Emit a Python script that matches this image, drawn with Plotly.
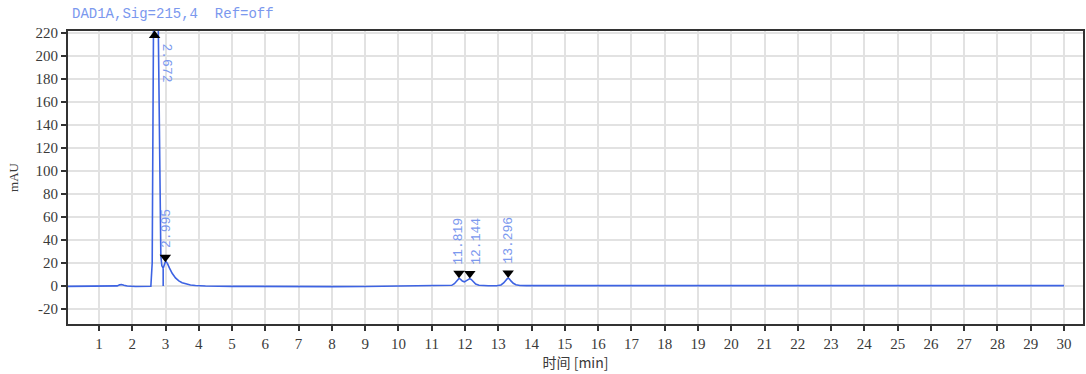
import numpy as np
import plotly.graph_objects as go

# Chromatogram: DAD1A, 215 nm
time_min = [
    0.07, 0.5, 1.0, 1.4, 1.55, 1.62, 1.68, 1.75, 1.85, 2.1, 2.4, 2.56,
    2.6, 2.62, 2.64, 2.672, 2.72, 2.78, 2.81, 2.83, 2.86, 2.89, 2.91, 2.93,
    2.96, 2.99, 3.02, 3.06, 3.12, 3.2, 3.3, 3.4, 3.5, 3.6, 3.75, 3.9, 4.2,
    5.0, 6.0, 7.0, 8.0, 9.0, 10.0, 11.0, 11.5,
    11.6, 11.68, 11.74, 11.79, 11.819, 11.86, 11.92, 11.98,
    12.04, 12.1, 12.144, 12.19, 12.25, 12.32, 12.42, 12.55, 12.7,
    12.95, 13.08, 13.16, 13.22, 13.27, 13.296, 13.33, 13.38, 13.45,
    13.53, 13.65, 13.85, 14.5, 15.0, 17.0, 20.0, 25.0, 29.5, 30.0,
]
signal_mau = [
    -0.3, -0.3, -0.2, -0.1, 0.1, 1.0, 1.3, 0.6, 0.0, -0.4, -0.3, -0.2,
    20.0, 120.0, 232.0, 242.0, 240.0, 232.0, 150.0, 60.0, 26.0, 17.5, 15.8, 15.5,
    18.0, 20.5, 21.0, 19.5, 15.5, 11.0, 7.0, 4.4, 2.8, 1.8, 0.9, 0.4, 0.0,
    -0.3, -0.5, -0.6, -0.5, -0.4, -0.2, 0.0, 0.1,
    0.6, 2.0, 4.0, 6.0, 6.6, 6.0, 4.3, 3.6,
    4.6, 6.0, 6.4, 5.6, 3.6, 1.8, 0.7, 0.3, 0.2,
    0.2, 0.9, 2.6, 5.0, 6.4, 6.8, 6.2, 4.4, 2.4,
    1.1, 0.5, 0.3, 0.2, 0.2, 0.3, 0.3, 0.3, 0.3, 0.3,
]

# Valley drop line between the first two peaks
drop_time = [2.93, 2.93]
drop_mau = [0.0, 15.5]

# Integrated peaks (retention times)
peak_rt = [2.672, 2.995, 11.819, 12.144, 13.296]
peak_labels = ["2.672", "2.995", "11.819", "12.144", "13.296"]

x_ticks = list(range(1, 31))
y_ticks = list(range(-20, 221, 20))

line_blue = "#3d63e3"
label_blue = "#7b98ee"
tick_font = dict(family="Liberation Serif", size=15, color="#3a3a3a")

fig = go.Figure()

fig.add_trace(go.Scatter(
    x=time_min, y=signal_mau, mode="lines",
    line=dict(color=line_blue, width=1.6), hoverinfo="skip", showlegend=False,
))
fig.add_trace(go.Scatter(
    x=drop_time, y=drop_mau, mode="lines",
    line=dict(color=line_blue, width=1.6), hoverinfo="skip", showlegend=False,
))

# Peak apex markers: the off-scale main peak gets an upward marker at the top
y_top = 221.5
apex = np.interp(peak_rt, time_min, signal_mau)
mark_y = [min(a + 4.5, y_top - 4.0) for a in apex]
symbols = ["triangle-up" if a > y_top else "triangle-down" for a in apex]

fig.add_trace(go.Scatter(
    x=peak_rt, y=mark_y, mode="markers",
    marker=dict(symbol=symbols, size=10, color="#000000"),
    hoverinfo="skip", showlegend=False, cliponaxis=False,
))

label_xshift = [12, 1, 0, 7, 0]
for rt, txt, my, a, dx in zip(peak_rt, peak_labels, mark_y, apex, label_xshift):
    if a > y_top:
        fig.add_annotation(
            x=rt, y=my, text=txt, textangle=90, showarrow=False,
            xanchor="center", yanchor="top", xshift=dx, yshift=-6,
            font=dict(family="Liberation Mono", size=13, color=label_blue),
        )
    else:
        fig.add_annotation(
            x=rt, y=my, text=txt, textangle=-90, showarrow=False,
            xanchor="center", yanchor="bottom", xshift=dx, yshift=7,
            font=dict(family="Liberation Mono", size=13, color=label_blue),
        )

fig.add_annotation(
    xref="paper", yref="paper", x=0.002, y=1.058,
    text="DAD1A,Sig=215,4  Ref=off", showarrow=False,
    xanchor="left", yanchor="middle",
    font=dict(family="Liberation Mono", size=14, color=label_blue),
)

fig.update_layout(
    width=1086, height=374,
    margin=dict(l=68, r=1, t=31, b=50),
    paper_bgcolor="white", plot_bgcolor="white",
    showlegend=False,
)
fig.update_xaxes(
    range=[0.07, 30.57], tickvals=x_ticks, ticktext=[str(v) for v in x_ticks],
    ticks="outside", ticklen=5, tickwidth=1.5, tickcolor="#333333",
    showgrid=True, gridcolor="#e2e2e2", gridwidth=1.5,
    showline=True, linecolor="#333333", linewidth=2, mirror=True,
    zeroline=False, tickfont=tick_font,
    title=dict(text="时间 [min]", standoff=6,
               font=dict(family="Noto Sans CJK SC", size=14, color="#3a3a3a")),
)
fig.update_yaxes(
    range=[-33, y_top], tickvals=y_ticks, ticktext=[str(v) for v in y_ticks],
    ticks="outside", ticklen=5, tickwidth=1.5, tickcolor="#333333",
    showgrid=True, gridcolor="#e2e2e2", gridwidth=1.5,
    showline=True, linecolor="#333333", linewidth=2, mirror=True,
    zeroline=False, tickfont=tick_font,
    title=dict(text="mAU", standoff=14,
               font=dict(family="Liberation Serif", size=13, color="#3a3a3a")),
)

fig.write_html("out.html")
